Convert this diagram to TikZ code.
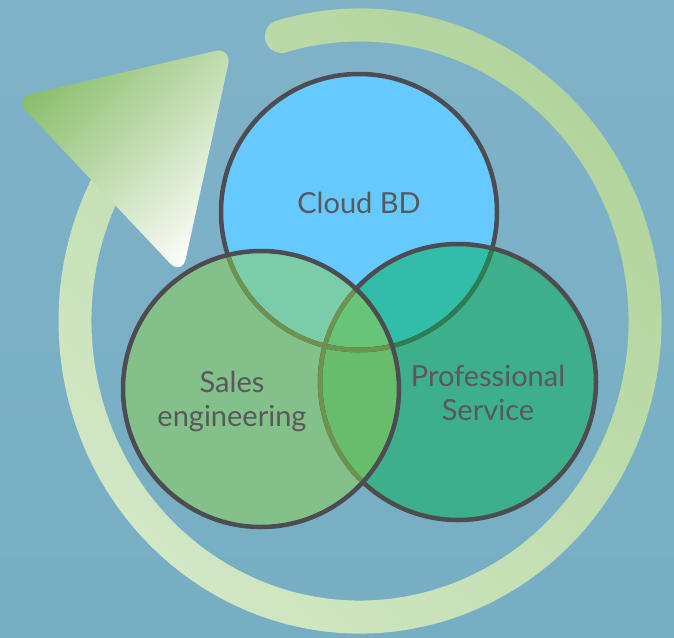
\documentclass[tikz,border=0pt]{standalone}
\usepackage{fontspec}
\setmainfont{Lato}
\usetikzlibrary{calc}
\definecolor{bgtop}{HTML}{80B2C8}
\definecolor{bgbot}{HTML}{76AEC4}
\definecolor{ringA}{HTML}{B0D39A}
\definecolor{ringB}{HTML}{D3E8C6}
\definecolor{headA}{HTML}{8ABE6C}
\definecolor{headB}{HTML}{FAFCF7}
\definecolor{cloudc}{HTML}{66C9FF}
\definecolor{salesc}{HTML}{83C08A}
\definecolor{profc}{HTML}{3DB08B}
\definecolor{csc}{HTML}{7BCDA9}
\definecolor{cpc}{HTML}{31BDA7}
\definecolor{spc}{HTML}{68BD6C}
\definecolor{cspc}{HTML}{66C576}
\definecolor{bdc}{HTML}{4C4C51}
\definecolor{olivec}{HTML}{6E9350}
\definecolor{dgreenc}{HTML}{2C7F55}
\definecolor{txtc}{HTML}{58585D}
\begin{document}
\begin{tikzpicture}[x=1pt,y=-1pt,
  lbl/.style={text=txtc, font=\fontsize{29}{34}\selectfont, align=center, inner sep=0pt},
  bd/.style={line width=4.5pt, draw=bdc},
  innerbd/.style={line width=4.5pt}]
\useasboundingbox (0,0) rectangle (674,637);
\shade[top color=bgtop, bottom color=bgbot] (0,0) rectangle (674,637);
% circular arrow ring
\begin{scope}[shift={(360,321)}]
\shade[top color=ringA, bottom color=ringB, shading angle=-45]
  (-106:301.5 and 312.5) arc[start angle=-106, end angle=210, x radius=301.5, y radius=312.5]
  -- (210:268.5 and 279.5) arc[start angle=210, end angle=-106, x radius=268.5, y radius=279.5]
  arc[start angle=74, end angle=254, radius=16.5] -- cycle;
\end{scope}
% arrow head
\shade[top color=headA, bottom color=headB, shading angle=45, rounded corners=18]
  (123,72.5) -- (232,47) -- (182,276) -- (14,98) -- cycle;
% circle centres
\coordinate (cC) at (359,212);
\coordinate (cS) at (261,389);
\coordinate (cP) at (458,382);
\def\R{138}
% fills
\fill[cloudc] (cC) circle (\R);
\fill[profc] (cP) circle (\R);
\fill[salesc] (cS) circle (\R);
\begin{scope}
  \clip (cC) circle (\R);
  \fill[csc] (cS) circle (\R);
  \fill[cpc] (cP) circle (\R);
\end{scope}
\begin{scope}
  \clip (cS) circle (\R);
  \fill[spc] (cP) circle (\R);
  \clip (cC) circle (\R);
  \fill[cspc] (cP) circle (\R);
\end{scope}
% borders
\draw[bd] (cC) circle (\R);
\begin{scope}
  \clip (cP) circle (\R);
  \draw[innerbd, draw=dgreenc] (cC) circle (\R);
\end{scope}
\begin{scope}
  \clip (cS) circle (\R);
  \draw[innerbd, draw=olivec] (cC) circle (\R);
\end{scope}
\draw[bd] (cP) circle (\R);
\begin{scope}
  \clip (cS) circle (\R);
  \draw[innerbd, draw=olivec] (cP) circle (\R);
\end{scope}
\draw[bd] (cS) circle (\R);
% labels
\node[lbl] (tcloud) at (359,203) {Cloud BD};
\node[lbl] (tsales) at (232,401) {Sales\\engineering};
\node[lbl] (tprof) at (488,393) {Professional\\Service};
\end{tikzpicture}
\end{document}
